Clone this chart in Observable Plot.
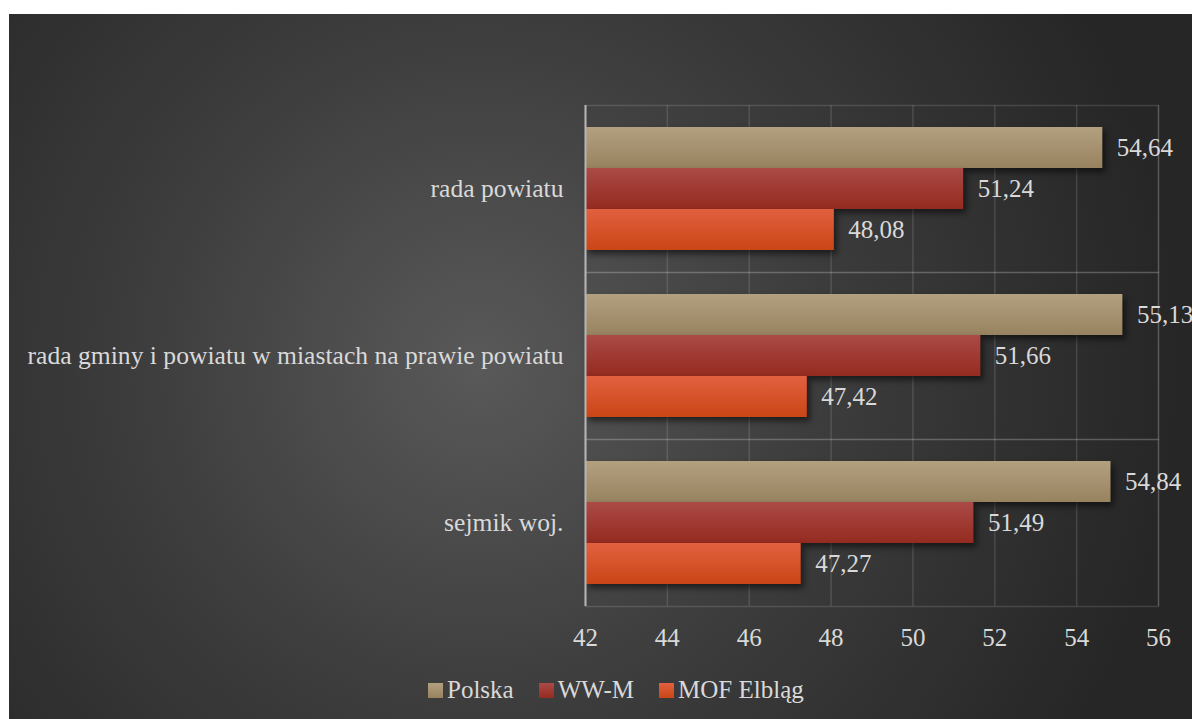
<!DOCTYPE html>
<html>
<head>
<meta charset="utf-8">
<script src="https://cdn.jsdelivr.net/npm/d3@7"></script>
<script src="https://cdn.jsdelivr.net/npm/@observablehq/plot@0.6"></script>
<style>
  html, body { margin: 0; padding: 0; background: #ffffff; }
  #wrap {
    position: absolute; left: 9px; top: 14px; width: 1183px; height: 705px; overflow: hidden;
    background: radial-gradient(circle 700px at 470px 350px, #595959 0%, #3c3c3c 50%, #262626 100%);
    font-family: "Liberation Serif", serif;
  }
  #chart svg { display: block; overflow: visible; }
  #legend {
    position: absolute; left: 419px; top: 661px; height: 30px;
    display: flex; align-items: center; color: #d9d9d9; font-size: 25px; white-space: nowrap;
  }
  #legend .item { display: flex; align-items: center; margin-right: 25px; }
  #legend .sw { width: 15px; height: 15px; margin-right: 4px; }
</style>
</head>
<body>
<div id="wrap">
  <div id="chart"></div>
  <div id="legend"></div>
</div>
<script>
const categories = ["rada powiatu", "rada gminy i powiatu w miastach na prawie powiatu", "sejmik woj."];
const series = ["Polska", "WW-M", "MOF Elbląg"];
const polska = [54.64, 55.13, 54.84];
const wwm = [51.24, 51.66, 51.49];
const mof = [48.08, 47.42, 47.27];
const xTicks = [42, 44, 46, 48, 50, 52, 54, 56];

const seriesValues = [polska, wwm, mof];
const gradStops = [
  ["#b3a07f", "#988360"],
  ["#ab4a46", "#942b20"],
  ["#e2603f", "#ca4616"]
];
const gradIds = ["gPolska", "gWWM", "gMOF"];

const data = [];
categories.forEach((c, i) => {
  series.forEach((s, j) => {
    data.push({category: c, series: s, value: seriesValues[j][i]});
  });
});

const fmt = v => v.toFixed(2).replace(".", ",");
const xMin = xTicks[0], xMax = xTicks[xTicks.length - 1];
const textColor = "#d9d9d9";
const gridColor = "rgba(255,255,255,0.13)";

const chart = Plot.plot({
  width: 1183,
  height: 660,
  marginLeft: 576,
  marginRight: 34,
  marginTop: 90,
  marginBottom: 68,
  style: {fontFamily: "'Liberation Serif', serif", fontSize: "25px", color: textColor, background: "transparent", overflow: "visible"},
  x: {domain: [xMin, xMax], ticks: xTicks, label: null, tickSize: 0, tickPadding: 22, tickFormat: d => String(d)},
  y: {domain: series, axis: null, paddingInner: 0, paddingOuter: 0.49},
  fy: {domain: categories, axis: null, paddingInner: 0, paddingOuter: 0},
  color: {domain: series, range: gradIds.map(id => `url(#${id})`)},
  marks: [
    Plot.gridX(xTicks, {stroke: gridColor, strokeOpacity: 1, strokeWidth: 1.5}),
    Plot.frame({stroke: gridColor, strokeWidth: 1.5}),
    Plot.axisFy({anchor: "left", label: null, tickSize: 0, tickPadding: 22, fontSize: 25.6}),
    Plot.barX(data, {
      fy: "category", y: "series",
      x1: () => xMin, x2: "value",
      fill: "series"
    }),
    Plot.ruleX([xMin], {stroke: "#b5b5b5", strokeWidth: 2}),
    Plot.text(data, {
      fy: "category", y: "series", x: "value",
      text: d => fmt(d.value),
      textAnchor: "start", dx: 14, fill: textColor, fontSize: 25
    })
  ]
});

// gradients for bars
const svg = d3.select(chart);
const defs = svg.insert("defs", ":first-child");
gradIds.forEach((id, k) => {
  const g = defs.append("linearGradient").attr("id", id).attr("x1", 0).attr("y1", 0).attr("x2", 0).attr("y2", 1);
  g.append("stop").attr("offset", "0%").attr("stop-color", gradStops[k][0]);
  g.append("stop").attr("offset", "100%").attr("stop-color", gradStops[k][1]);
});
svg.selectAll("g[aria-label='bar'] rect").style("filter", "drop-shadow(3px 4px 3px rgba(0,0,0,0.55))");

document.getElementById("chart").appendChild(chart);

const legend = document.getElementById("legend");
series.forEach((s, k) => {
  const item = document.createElement("div");
  item.className = "item";
  const sw = document.createElement("div");
  sw.className = "sw";
  sw.style.background = `linear-gradient(${gradStops[k][0]}, ${gradStops[k][1]})`;
  const t = document.createElement("span");
  t.textContent = s;
  item.appendChild(sw); item.appendChild(t);
  legend.appendChild(item);
});
</script>
</body>
</html>
